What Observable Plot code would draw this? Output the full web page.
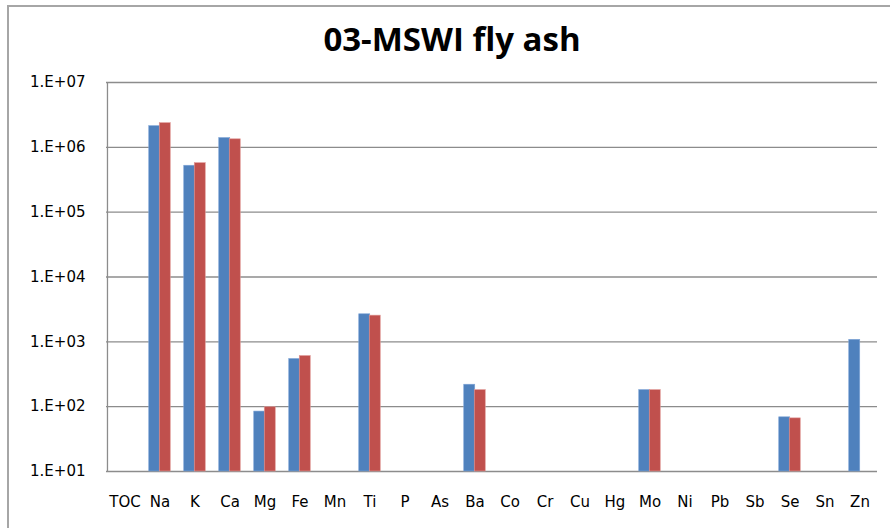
<!DOCTYPE html>
<html>
<head>
<meta charset="utf-8">
<script src="https://cdn.jsdelivr.net/npm/d3@7"></script>
<script src="https://cdn.jsdelivr.net/npm/@observablehq/plot@0.6"></script>
<style>
  html, body { margin: 0; padding: 0; background: #fff; }
  #wrap { position: relative; width: 890px; height: 528px; overflow: hidden; background: #fff; }
  #border { position: absolute; left: 7px; top: 5px; width: 900px; height: 600px;
            border-top: 2px solid #a6a6a6; border-left: 2px solid #a6a6a6; box-sizing: border-box; pointer-events: none; }
  #title { position: absolute; left: 14px; width: 876px; top: 22px; text-align: center;
           font-family: "Open Sans", sans-serif; font-weight: 700; font-size: 33px; line-height: 33px; color: #000; }
  #chart { position: absolute; left: 0; top: 72px; }
</style>
</head>
<body>
<div id="wrap">
  <div id="title">03-MSWI fly ash</div>
  <div id="chart"></div>
  <div id="border"></div>
</div>
<script>
const categories = ["TOC","Na","K","Ca","Mg","Fe","Mn","Ti","P","As","Ba","Co","Cr","Cu","Hg","Mo","Ni","Pb","Sb","Se","Sn","Zn"];
const seriesBlue = [null, 2120000, 520000, 1390000, 84, 543, null, 2660, null, null, 218, null, null, null, null, 180, null, null, null, 68.5, null, 1073];
const seriesRed  = [null, 2360000, 570000, 1330000, 98, 604, null, 2535, null, null, 180, null, null, null, null, 180, null, null, null, 66, null, null];
const yTicks = [1e1, 1e2, 1e3, 1e4, 1e5, 1e6, 1e7];
const yTickLabels = ["1.E+01","1.E+02","1.E+03","1.E+04","1.E+05","1.E+06","1.E+07"];
const blueColor = "#4F81BD";
const redColor = "#C0504D";

const rows = (vals) => categories.map((c, i) => ({cat: c, value: vals[i]})).filter(d => d.value != null);
const blueRows = rows(seriesBlue);
const redRows = rows(seriesRed);

const width = 890, height = 456;
const marginLeft = 106, marginRight = 13;
const step = (width - marginLeft - marginRight) / categories.length;
const barW = step * 0.3;
const baseline = yTicks[0];

const chart = Plot.plot({
  width, height,
  marginTop: 10, marginBottom: 57, marginLeft, marginRight,
  style: {fontFamily: "DejaVu Sans", fontSize: "15px", color: "#000", background: "transparent"},
  x: {domain: categories, paddingInner: 0.7, paddingOuter: 0.35, label: null, tickSize: 0, tickPadding: 25},
  y: {type: "log", domain: [yTicks[0], yTicks[yTicks.length - 1]], ticks: yTicks,
      tickFormat: d => yTickLabels[yTicks.indexOf(d)], tickSize: 0, tickPadding: 21, label: null},
  marks: [
    Plot.gridY(yTicks, {stroke: "#8c8c8c", strokeOpacity: 1, strokeWidth: 1.3}),
    Plot.barY(blueRows, {x: "cat", y1: () => baseline, y2: "value", fill: blueColor, dx: -barW / 2,
                         stroke: "#7ea4d6", strokeWidth: 0.6}),
    Plot.barY(redRows, {x: "cat", y1: () => baseline, y2: "value", fill: redColor, dx: barW / 2,
                        stroke: "#e19a98", strokeWidth: 0.6}),
    Plot.ruleX([0], {x: () => categories[0], dx: -step / 2 - 0, y1: baseline, y2: yTicks[yTicks.length - 1],
                     stroke: "#8c8c8c", strokeWidth: 1.3, frameAnchor: "left"})
  ]
});
document.getElementById("chart").appendChild(chart);
</script>
</body>
</html>
